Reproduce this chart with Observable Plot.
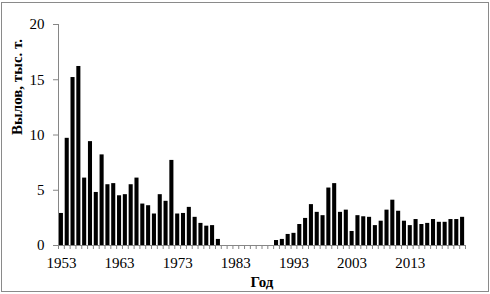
<!DOCTYPE html>
<html>
<head>
<meta charset="utf-8">
<script src="https://cdn.jsdelivr.net/npm/d3@7"></script>
<script src="https://cdn.jsdelivr.net/npm/@observablehq/plot@0.6"></script>
<style>
  html, body { margin: 0; padding: 0; background: #fff; }
  #wrap { position: relative; width: 490px; height: 294px; }
  #border { position: absolute; left: 1px; top: 2px; width: 488px; height: 290px; box-sizing: border-box; border: 1px solid #8a8a8a; pointer-events: none; }
  svg { font-family: "Liberation Serif", "Times New Roman", serif; }
</style>
</head>
<body>
<div id="wrap"><div id="border"></div></div>
<script>
const years = d3.range(1953, 2023);
const values = [
  2.9, 9.7, 15.2, 16.2, 6.1, 9.4, 4.8, 8.2, 5.5, 5.6,
  4.5, 4.6, 5.5, 6.1, 3.75, 3.6, 2.85, 4.6, 4.0, 7.7,
  2.85, 2.9, 3.45, 2.55, 2.0, 1.75, 1.8, 0.55, 0, 0,
  0, 0, 0, 0, 0, 0, 0, 0.45, 0.55, 1.0,
  1.1, 1.9, 2.45, 3.7, 3.0, 2.7, 5.2, 5.6, 3.0, 3.2,
  1.27, 2.7, 2.6, 2.55, 1.8, 2.2, 3.2, 4.1, 3.1, 2.2,
  1.8, 2.35, 1.9, 2.0, 2.35, 2.1, 2.1, 2.35, 2.35, 2.55
];
const yTicks = [0, 5, 10, 15, 20];
const xLabelYears = [1953, 1963, 1973, 1983, 1993, 2003, 2013];
const yTitle = "Вылов, тыс. т.";
const xTitle = "Год";

const data = years.map((year, i) => ({year, value: values[i]}));
const boundaries = d3.range(years[0] - 0.5, years[years.length - 1] + 1, 1);
const axisColor = "#868686";

const chart = Plot.plot({
  width: 490,
  height: 294,
  marginLeft: 58,
  marginRight: 25,
  marginTop: 24,
  marginBottom: 49,
  style: {fontFamily: "'Liberation Serif', 'Times New Roman', serif", background: "transparent"},
  x: {domain: [boundaries[0], boundaries[boundaries.length - 1]]},
  y: {domain: [0, 20]},
  marks: [
    Plot.rectY(data, {x1: d => d.year - 0.35, x2: d => d.year + 0.35, y: "value", fill: "black"}),
    Plot.ruleX([boundaries[0]], {y1: 0, y2: 20, stroke: axisColor}),
    Plot.ruleY([0], {stroke: axisColor}),
    Plot.axisY({ticks: yTicks, tickSize: 5, tickPadding: 9, stroke: axisColor, fill: "black", fontSize: 15, label: null}),
    Plot.axisX({ticks: boundaries, tickSize: 4, tickFormat: () => "", stroke: axisColor, label: null}),
    Plot.axisX({ticks: xLabelYears, tickSize: 0, tickPadding: 12, tickFormat: d => String(d), fill: "black", fontSize: 15, label: null}),
    Plot.text([yTitle], {frameAnchor: "left", dx: -41, rotate: -90, text: d => d, fontWeight: "bold", fontSize: 15, fill: "black", lineAnchor: "middle"}),
    Plot.text([xTitle], {frameAnchor: "bottom", dy: 37, text: d => d, fontWeight: "bold", fontSize: 15, fill: "black", lineAnchor: "middle"})
  ]
});
document.getElementById("wrap").prepend(chart);
</script>
</body>
</html>
